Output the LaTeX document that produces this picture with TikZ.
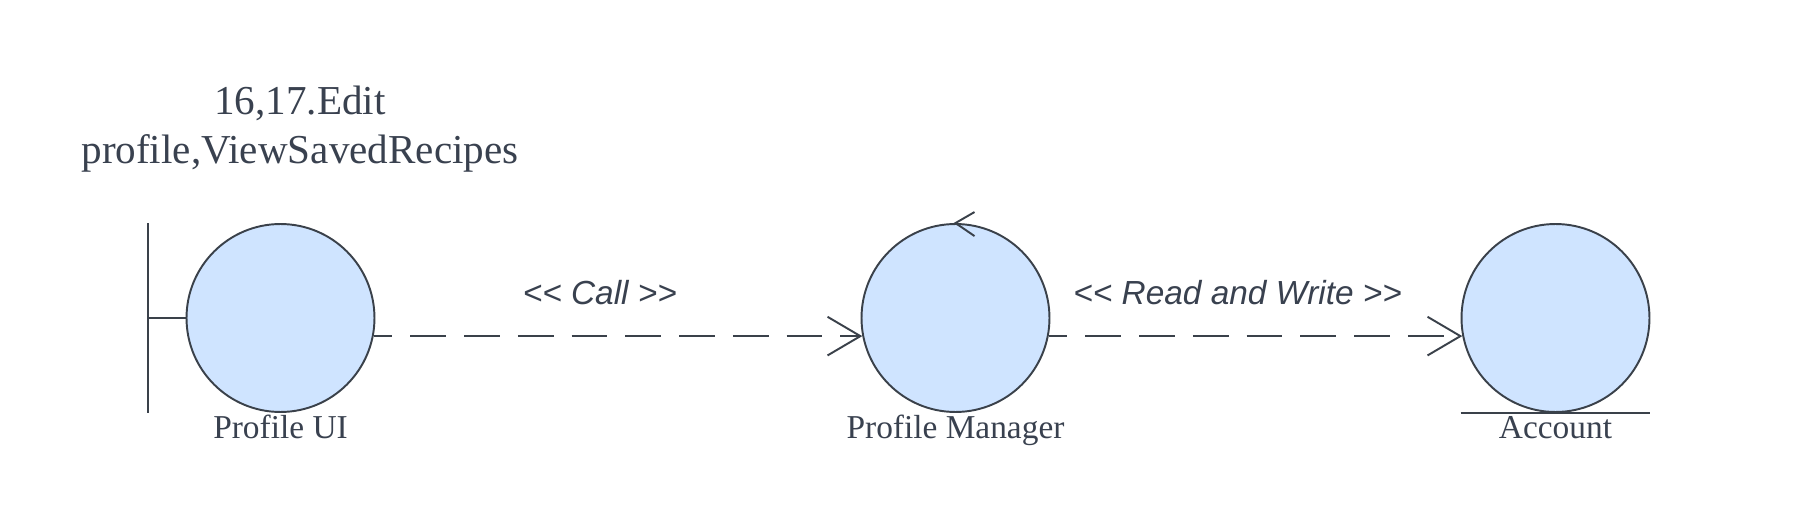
\documentclass[tikz,border=0pt]{standalone}
\usepackage{fontspec}
\setmainfont{Liberation Serif}
\setsansfont{Liberation Sans}
\usetikzlibrary{arrows.meta, positioning, calc}
\definecolor{ucline}{HTML}{3A414A}
\definecolor{ucfill}{HTML}{CFE4FF}
\definecolor{uctext}{HTML}{39414F}
\tikzset{
  obj/.style={circle, draw=ucline, fill=ucfill, line width=1.1pt,
              minimum size=3.76cm, inner sep=0pt},
  objlbl/.style={font=\fontsize{19}{22}\selectfont, text=uctext,
                 anchor=base, inner sep=0pt},
  stereo/.style={font=\sffamily\itshape\fontsize{19}{22}\selectfont, text=uctext,
                 anchor=base, inner sep=0pt},
  dep/.style={draw=ucline, line width=1.1pt, dash pattern=on 20.4pt off 10.2pt,
              dash phase=9.8pt, -{Straight Barb[length=18.7pt,width=22pt]}},
  sym/.style={draw=ucline, line width=1.1pt},
}

\begin{document}
\begin{tikzpicture}[x=0.02cm, y=0.02cm,
    ttlnode/.style={font=\fontsize{23.4}{28}\selectfont, text=uctext,
                    align=center, inner sep=0pt}]
  \useasboundingbox (0,0) rectangle (1800,525);
  \node[ttlnode] (ttl) at (300,395.8) {16,17.Edit\\profile,ViewSavedRecipes};

  \node[obj] (ui)   at (280.5,207)  {};
  \node[obj] (mgr)  at (955.5,207)  {};
  \node[obj] (acct) at (1555.5,207) {};
  \node[objlbl] (uilbl)   at (280.5,87)  {Profile UI};
  \node[objlbl] (mgrlbl)  at (955.5,87)  {Profile Manager};
  \node[objlbl] (acctlbl) at (1555.5,87) {Account};

  % boundary, control and entity marks
  \draw[sym] (ui.west) -- ++(-37.5,0) coordinate (bnd);
  \draw[sym] (bnd |- ui.north) -- (bnd |- ui.south);
  \draw[sym] ([shift={(19,11)}]mgr.north) -- (mgr.north) -- ([shift={(19,-13)}]mgr.north);
  \draw[sym] (acct.south -| acct.west) -- (acct.south -| acct.east);

  \draw[dep] (ui.-11.5) -- node[stereo, pos=0.463, yshift=18pt] {<{}< Call >{}>} (mgr.191.5);
  \draw[dep] (mgr.-11.5) -- node[stereo, pos=0.457, yshift=18pt] {<{}< Read and Write >{}>} (acct.191.5);
\end{tikzpicture}
\end{document}
